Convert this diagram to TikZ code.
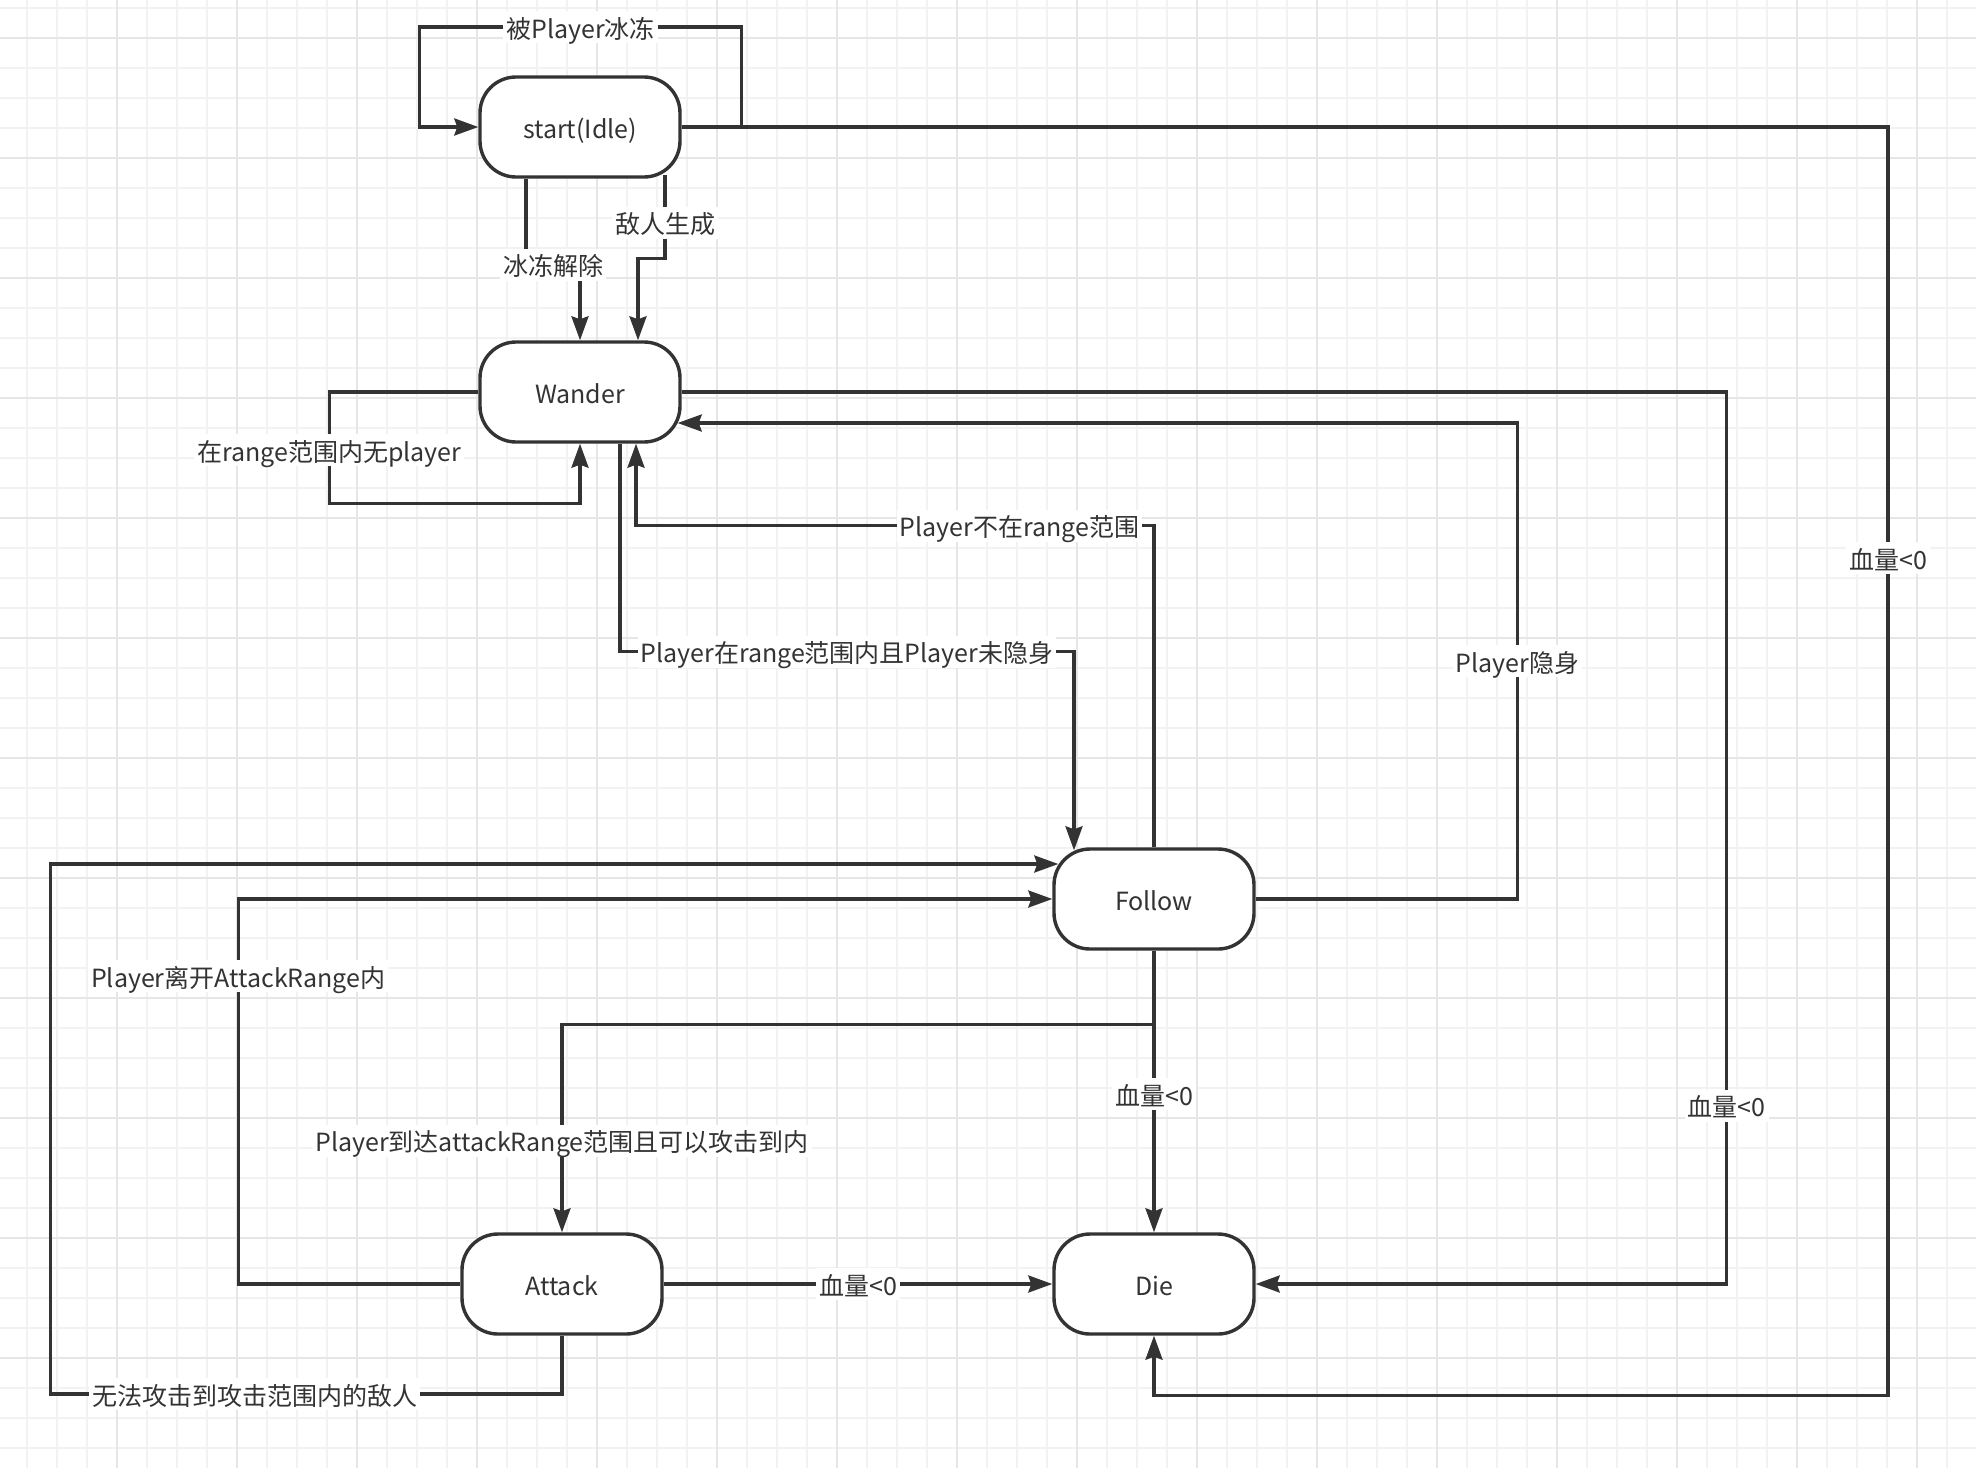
\documentclass[tikz,border=0pt]{standalone}
\usepackage{fontspec}
\setmainfont{Noto Sans CJK SC}
\usepackage{xcolor}
\usepackage{tikz}
\usetikzlibrary{arrows.meta,calc}
\definecolor{ink}{HTML}{333333}
\definecolor{gridfine}{HTML}{F2F2F2}
\definecolor{gridbold}{HTML}{E6E6E6}
\pgfdeclarelayer{back}
\pgfdeclarelayer{links}
\pgfsetlayers{back,links,main}

\begin{document}
\begin{tikzpicture}[x=0.5pt,y=-0.5pt,
  state/.style={draw=ink,line width=1.7pt,fill=white,rounded corners=18pt,
    minimum width=100pt,minimum height=50pt,text=ink,text height=12pt,text depth=1pt,
    font=\fontsize{12.5}{15}\selectfont},
  link/.style={draw=ink,line width=1.6pt},
  arr/.style={link,-{Stealth[length=12pt,width=8.5pt,inset=1.5pt]}},
  lbl/.style={fill=white,text=ink,inner sep=1.5pt,text height=12pt,text depth=1pt,
    font=\fontsize{12.5}{15}\selectfont}]
\useasboundingbox (0,0) rectangle (1976,1468);
\begin{pgfonlayer}{back}
\fill[white] (0,0) rectangle (1976,1468);
\foreach \k in {0,...,64}{
  \draw[gridfine,line width=1pt] (26.7+30*\k,0) -- (26.7+30*\k,1468);
}
\foreach \k in {0,...,48}{
  \draw[gridfine,line width=1pt] (0,8.3+30*\k) -- (1976,8.3+30*\k);
}
\foreach \k in {0,...,15}{
  \draw[gridbold,line width=1pt] (116.7+120*\k,0) -- (116.7+120*\k,1468);
}
\foreach \k in {0,...,11}{
  \draw[gridbold,line width=1pt] (0,38.3+120*\k) -- (1976,38.3+120*\k);
}
\end{pgfonlayer}

\node[state] (start) at (580,127) {start(Idle)};
\node[state] (wander) at (580,392) {Wander};
\node[state] (follow) at (1154,899) {Follow};
\node[state] (attack) at (562,1284) {Attack};
\node[state] (die) at (1154,1284) {Die};

\begin{pgfonlayer}{links}
\draw[arr] (start.east) -- ++(60,0) |- node[lbl,pos=0.75]{被Player冰冻} ($(start.west)+(-59,-100)$) |- (start.west);
\draw[arr] (start.east) -| node[lbl,pos=0.67]{血量<0} ($(die.south)+(734,60)$) -| (die.south);
\draw[arr] ($(start.south)+(-54,0)$) -- ++(0,86) -| node[lbl,pos=0.25]{冰冻解除} (wander.north);
\draw[arr] ($(start.south)+(85,-4)$) -- node[lbl,pos=0.57]{敌人生成} ++(0,84) -| ($(wander.north)+(58,0)$);
\draw[arr] (wander.west) -- ++(-149,0) |- node[lbl,pos=0.26]{在range范围内无player} ($(wander.south)+(0,60)$) -- (wander.south);
\draw[arr] ($(wander.south)+(40,0)$) -- ++(0,208) -| node[lbl,pos=0.25]{Player在range范围内且Player未隐身} ($(follow.north)+(-80,3)$);
\draw[arr] (follow.north) |- node[lbl,pos=0.63]{Player不在range范围} ($(wander.south)+(56,82)$) -- ($(wander.south)+(56,0)$);
\draw[arr] (wander.east) -| node[lbl,pos=0.90]{血量<0} ($(die.east)+(471,0)$) -- (die.east);
\draw[arr] (follow.east) -| node[lbl,pos=0.75]{Player隐身} ($(wander.east)+(836,31)$) -- ($(wander.east)+(-4,31)$);
\draw[arr] (follow.south) -- ++(0,74) -| node[lbl,pos=0.78]{Player到达attackRange范围且可以攻击到内} (attack.north);
\draw[arr] (follow.south) -- node[lbl,pos=0.51]{血量<0} (die.north);
\draw[arr] (attack.east) -- node[lbl]{血量<0} (die.west);
\draw[arr] (attack.west) -| node[lbl,pos=0.90]{Player离开AttackRange内} ($(follow.west)+(-814,0)$) -- (follow.west);
\draw[arr] (attack.south) |- node[lbl,pos=0.80]{无法攻击到攻击范围内的敌人} ($(follow.west)+(-1002,495)$) |- ($(follow.west)+(6,-35)$);
\end{pgfonlayer}
\end{tikzpicture}
\end{document}
